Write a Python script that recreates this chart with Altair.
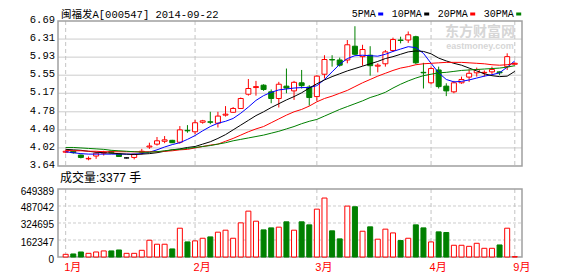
import altair as alt
import pandas as pd
import numpy as np

TITLE = "闽福发A[000547] 2014-09-22"
VOL_TITLE = "成交量:3377 手"
MONTH_LABELS = ["1月", "2月", "3月", "4月", "9月"]
MONTH_BARS = [0, 17, 33, 48, 59]
PRICE_TICKS = [3.64, 4.02, 4.40, 4.78, 5.17, 5.55, 5.93, 6.31, 6.69]
PRICE_LABELS = ["3.64", "4.02", "4.40", "4.78", "5.17", "5.55", "5.93", "6.31", "6.69"]
VOL_TICKS = [0, 162347, 324695, 487042, 649389]
VOL_LABELS = ["0", "162347", "324695", "487042", "649389"]
MA_NAMES = ["5PMA", "10PMA", "20PMA", "30PMA"]
MA_COLORS = ["#0000ff", "#000000", "#ff0000", "#008000"]
WATERMARK = ["东方财富网", "eastmoney.com"]

OPEN = [3.93, 3.95, 3.87, 3.79, 3.85, 3.91, 3.95, 3.89, 3.81, 3.82,
        3.93, 4.04, 4.10, 4.16, 4.18, 4.14, 4.39, 4.36, 4.56, 4.57,
        4.54, 4.71, 4.77, 4.85, 5.15, 5.29, 5.34, 5.20, 5.06, 5.32,
        5.22, 5.39, 5.30, 5.10, 5.57, 5.88, 5.87, 5.87, 6.16, 5.94,
        5.97, 5.74, 5.79, 6.07, 6.29, 6.29, 6.36, 5.61, 5.39, 5.66,
        5.32, 5.20, 5.39, 5.51, 5.60, 5.60, 5.62, 5.62, 5.73, 5.78]
HIGH = [3.97, 3.96, 3.88, 3.84, 3.93, 3.96, 3.96, 3.90, 3.82, 3.90,
        4.00, 4.13, 4.25, 4.27, 4.19, 4.48, 4.50, 4.61, 4.61, 4.78,
        4.78, 4.90, 4.88, 5.08, 5.47, 5.43, 5.36, 5.25, 5.41, 5.69,
        5.43, 5.66, 5.34, 5.55, 5.97, 5.97, 5.92, 6.29, 6.58, 6.19,
        6.16, 5.80, 6.08, 6.34, 6.36, 6.47, 6.38, 5.81, 5.73, 5.73,
        5.38, 5.43, 5.52, 5.67, 5.71, 5.65, 5.73, 5.63, 6.01, 5.82]
LOW = [3.91, 3.90, 3.80, 3.76, 3.79, 3.86, 3.90, 3.83, 3.80, 3.78,
       3.88, 4.00, 4.07, 4.12, 4.12, 4.11, 4.34, 4.31, 4.53, 4.52,
       4.45, 4.68, 4.76, 4.84, 5.12, 5.12, 5.22, 4.96, 4.87, 5.17,
       5.03, 5.27, 4.91, 5.01, 5.48, 5.73, 5.73, 5.80, 5.97, 5.75,
       5.54, 5.61, 5.73, 6.04, 6.22, 6.23, 5.78, 5.27, 5.36, 5.27,
       5.11, 5.17, 5.37, 5.41, 5.52, 5.52, 5.56, 5.55, 5.66, 5.77]
CLOSE = [3.95, 3.92, 3.82, 3.80, 3.91, 3.93, 3.92, 3.84, 3.81, 3.89,
         3.95, 4.06, 4.17, 4.19, 4.13, 4.40, 4.38, 4.55, 4.59, 4.56,
         4.69, 4.73, 4.85, 5.06, 5.27, 5.31, 5.25, 5.06, 5.36, 5.28,
         5.40, 5.33, 5.08, 5.53, 5.88, 5.87, 5.76, 6.19, 5.99, 6.09,
         5.75, 5.76, 6.04, 6.30, 6.28, 6.40, 5.81, 5.60, 5.69, 5.31,
         5.22, 5.39, 5.46, 5.59, 5.67, 5.61, 5.67, 5.60, 5.94, 5.80]
VOLUME = [25600, 29000, 48000, 35000, 48000, 58000, 58000, 67000, 35000, 35000,
          64000, 160000, 122000, 122000, 77000, 275000, 144000, 154000, 179000, 192000,
          237000, 256000, 179000, 326000, 438000, 342000, 259000, 278000, 285000, 336000,
          256000, 336000, 307000, 457000, 563000, 250000, 173000, 486000, 480000, 246000,
          288000, 170000, 266000, 230000, 157000, 179000, 307000, 278000, 144000, 240000,
          234000, 112000, 112000, 102000, 131000, 83000, 83000, 115000, 275000, 3377]
MA5 = [3.94, 3.92, 3.90, 3.89, 3.89, 3.89, 3.89, 3.89, 3.89, 3.89,
       3.90, 3.93, 3.98, 4.04, 4.09, 4.13, 4.20, 4.28, 4.38, 4.47,
       4.54, 4.58, 4.64, 4.75, 4.88, 5.02, 5.12, 5.19, 5.24, 5.26,
       5.28, 5.29, 5.29, 5.33, 5.46, 5.62, 5.78, 5.90, 5.96, 5.97,
       5.96, 5.95, 5.99, 6.05, 6.10, 6.15, 6.13, 6.01, 5.80, 5.60,
       5.46, 5.41, 5.42, 5.45, 5.49, 5.53, 5.56, 5.60, 5.72, 5.85]
MA10 = [3.99, 3.98, 3.97, 3.95, 3.93, 3.92, 3.91, 3.90, 3.89, 3.88,
        3.89, 3.90, 3.92, 3.95, 3.98, 4.00, 4.03, 4.05, 4.10, 4.15,
        4.22, 4.30, 4.40, 4.50, 4.60, 4.70, 4.78, 4.87, 4.95, 5.03,
        5.10, 5.18, 5.28, 5.37, 5.45, 5.52, 5.58, 5.64, 5.69, 5.74,
        5.79, 5.84, 5.90, 5.94, 5.99, 6.04, 6.06, 6.05, 6.00, 5.91,
        5.85, 5.80, 5.76, 5.70, 5.64, 5.58, 5.54, 5.52, 5.53, 5.63]
MA20 = [3.97, 3.96, 3.96, 3.95, 3.95, 3.94, 3.94, 3.94, 3.94, 3.94,
        3.94, 3.94, 3.94, 3.95, 3.96, 3.98, 3.99, 4.02, 4.05, 4.08,
        4.10, 4.16, 4.22, 4.29, 4.36, 4.42, 4.47, 4.55, 4.63, 4.71,
        4.78, 4.83, 4.90, 4.99, 5.06, 5.11, 5.17, 5.23, 5.31, 5.39,
        5.46, 5.53, 5.59, 5.65, 5.70, 5.73, 5.77, 5.79, 5.80, 5.81,
        5.82, 5.82, 5.82, 5.81, 5.80, 5.79, 5.77, 5.76, 5.77, 5.80]
MA30 = [4.03, 4.03, 4.02, 4.01, 4.00, 3.99, 3.97, 3.96, 3.95, 3.94,
        3.93, 3.93, 3.94, 3.96, 3.98, 3.99, 4.01, 4.03, 4.05, 4.07,
        4.10, 4.13, 4.17, 4.20, 4.23, 4.26, 4.29, 4.33, 4.37, 4.42,
        4.47, 4.53, 4.58, 4.62, 4.69, 4.76, 4.83, 4.89, 4.95, 5.01,
        5.08, 5.13, 5.19, 5.28, 5.36, 5.43, 5.49, 5.54, 5.57, 5.60,
        5.61, 5.63, 5.65, 5.66, 5.67, 5.68, 5.69, 5.70, 5.72, 5.75]

# ---------------- layout constants (styles, not data) ----------------
W, H = 464, 236
P_TOP, P_BOT = 0, 145
V_TOP, V_BOT = 168, 236
GRID = "#cccccc"
FRAME = "#a0a0a0"
MONO = "Liberation Mono, Noto Sans CJK SC"
SANS = "Liberation Sans, Noto Sans CJK SC"

n = len(OPEN)
bars = pd.DataFrame(dict(i=np.arange(n), o=OPEN, h=HIGH, l=LOW, c=CLOSE, v=VOLUME))
bars["dir"] = np.where(bars.c > bars.o, "up", np.where(bars.c < bars.o, "down", "flat"))
bars["vdir"] = np.where(bars.c >= bars.o, "up", "down")
bars["zero"] = 0

ma_long = pd.concat([
    pd.DataFrame(dict(i=np.arange(n), val=vals, ma=name))
    for name, vals in zip(MA_NAMES, [MA5, MA10, MA20, MA30])
])

xscale = alt.Scale(domain=[-0.35, 59.29], nice=False, zero=False)
X = alt.X("i:Q", scale=xscale, axis=None)


def pscale():
    return alt.Scale(domain=[PRICE_TICKS[0], PRICE_TICKS[-1]], range=[P_BOT, P_TOP], nice=False, zero=False)


def vscale():
    return alt.Scale(domain=[VOL_TICKS[0], VOL_TICKS[-1]], range=[V_BOT, V_TOP], nice=False, zero=False)


dirs = ["up", "down", "flat"]
stroke_s = alt.Scale(domain=dirs, range=["#ff0000", "#008000", "#000000"])
fill_s = alt.Scale(domain=dirs, range=["#ffffff", "#008000", "#000000"])

layers = []

# price grid
pt = pd.DataFrame(dict(p=PRICE_TICKS, lab=PRICE_LABELS))
layers.append(alt.Chart(pt.iloc[1:-1]).mark_rule(color=GRID, strokeWidth=1).encode(
    y=alt.Y("p:Q", scale=pscale(), axis=None), x=alt.value(0), x2=alt.value(W)))
# volume grid
vt = pd.DataFrame(dict(v=VOL_TICKS, lab=VOL_LABELS))
layers.append(alt.Chart(vt.iloc[1:-1]).mark_rule(color=GRID, strokeWidth=1, strokeDash=[3, 2]).encode(
    y=alt.Y("v:Q", scale=vscale(), axis=None), x=alt.value(0), x2=alt.value(W)))
# month dashed lines
mt = pd.DataFrame(dict(i=MONTH_BARS, lab=MONTH_LABELS))
layers.append(alt.Chart(mt).mark_rule(color="#c4c4c4", strokeWidth=1, strokeDash=[4, 3]).encode(
    x=X, y=alt.value(P_TOP), y2=alt.value(P_BOT)))
layers.append(alt.Chart(mt).mark_rule(color="#c4c4c4", strokeWidth=1, strokeDash=[4, 3]).encode(
    x=X, y=alt.value(V_TOP), y2=alt.value(V_BOT)))
# frames
one = pd.DataFrame({"a": [0]})
for (t, b) in [(P_TOP, P_BOT), (V_TOP, V_BOT)]:
    layers.append(alt.Chart(one).mark_rect(fill=None, stroke=FRAME, strokeWidth=1.5).encode(
        x=alt.value(0), x2=alt.value(W), y=alt.value(t), y2=alt.value(b)))

# watermark
layers.append(alt.Chart(one).mark_text(text=WATERMARK[0], font=SANS, fontSize=14, fontWeight="bold",
                                      color="#d6d6d6", align="center", baseline="middle").encode(
    x=alt.value(422), y=alt.value(11)))
layers.append(alt.Chart(one).mark_text(text=WATERMARK[1], font="Liberation Sans", fontSize=9, fontWeight="bold",
                                      color="#d6d6d6", align="center", baseline="middle").encode(
    x=alt.value(422), y=alt.value(25)))

# wicks
layers.append(alt.Chart(bars).mark_rule(strokeWidth=1).encode(
    x=X, y=alt.Y("l:Q", scale=pscale(), axis=None), y2="h:Q",
    stroke=alt.Stroke("dir:N", scale=stroke_s, legend=None)))
# bodies
layers.append(alt.Chart(bars).mark_bar(size=5, strokeWidth=1).encode(
    x=X, y=alt.Y("o:Q", scale=pscale(), axis=None), y2="c:Q",
    stroke=alt.Stroke("dir:N", scale=stroke_s, legend=None),
    fill=alt.Fill("dir:N", scale=fill_s, legend=None)))
# moving averages
layers.append(alt.Chart(ma_long).mark_line(strokeWidth=1).encode(
    x=X, y=alt.Y("val:Q", scale=pscale(), axis=None),
    color=alt.Color("ma:N", scale=alt.Scale(domain=MA_NAMES, range=MA_COLORS), legend=None)))
# volume bars
layers.append(alt.Chart(bars).mark_bar(size=5, strokeWidth=1).encode(
    x=X, y=alt.Y("v:Q", scale=vscale(), axis=None), y2="zero:Q",
    stroke=alt.Stroke("vdir:N", scale=stroke_s, legend=None),
    fill=alt.Fill("vdir:N", scale=fill_s, legend=None)))

# y labels
layers.append(alt.Chart(pt).mark_text(font=MONO, fontSize=10.5, align="right", baseline="middle", dy=-1,
                                     color="#000000").encode(
    y=alt.Y("p:Q", scale=pscale(), axis=None), x=alt.value(-3), text="lab:N"))
layers.append(alt.Chart(vt).mark_text(font="Liberation Sans", fontSize=10, align="right", baseline="middle", dy=2.5,
                                     color="#000000").encode(
    y=alt.Y("v:Q", scale=vscale(), axis=None), x=alt.value(-4), text="lab:N"))
# x labels
layers.append(alt.Chart(mt).mark_text(font=SANS, fontSize=11, align="left", baseline="middle", dx=-1.5,
                                     color="#ff0000").encode(
    x=X, y=alt.value(247), text="lab:N"))

# title & volume caption
layers.append(alt.Chart(one).mark_text(text=TITLE, font=MONO, fontSize=10.5, align="left",
                                      baseline="alphabetic", color="#000000").encode(
    x=alt.value(3), y=alt.value(-3.5)))
layers.append(alt.Chart(one).mark_text(text=VOL_TITLE, font=SANS, fontSize=12, align="left",
                                      baseline="alphabetic", color="#000000").encode(
    x=alt.value(2), y=alt.value(161)))

# legend
lx = 293.7
for name, col in zip(MA_NAMES, MA_COLORS):
    w = 6 * len(name)
    layers.append(alt.Chart(one).mark_text(text=name, font="Liberation Mono", fontSize=10, align="left",
                                          baseline="alphabetic", color="#000000").encode(
        x=alt.value(lx), y=alt.value(-3.7)))
    layers.append(alt.Chart(one).mark_rect(color=col).encode(
        x=alt.value(lx + w + 2.5), x2=alt.value(lx + w + 7.5), y=alt.value(-8.5), y2=alt.value(-5.5)))
    lx += w + 16

chart = alt.layer(*layers).resolve_scale(
    y="independent", stroke="independent", fill="independent", color="independent"
).properties(
    width=W, height=H,
    padding={"left": 58, "top": 21, "right": 56, "bottom": 19},
    autosize=alt.AutoSizeParams(type="none"),
    background="#ffffff",
).configure_view(stroke=None)

chart.save("out.html", embed_options={"renderer": "svg", "actions": False})
